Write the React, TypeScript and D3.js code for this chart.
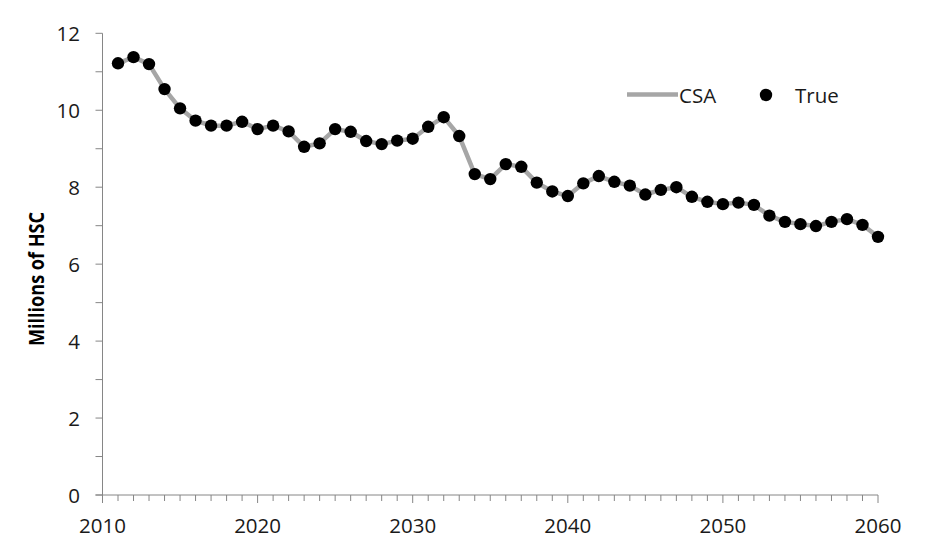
import React from "react";
import * as d3 from "d3";

const years: number[] = [
  2011, 2012, 2013, 2014, 2015, 2016, 2017, 2018, 2019, 2020,
  2021, 2022, 2023, 2024, 2025, 2026, 2027, 2028, 2029, 2030,
  2031, 2032, 2033, 2034, 2035, 2036, 2037, 2038, 2039, 2040,
  2041, 2042, 2043, 2044, 2045, 2046, 2047, 2048, 2049, 2050,
  2051, 2052, 2053, 2054, 2055, 2056, 2057, 2058, 2059, 2060,
];
const csaValues: number[] = [
  11.22, 11.38, 11.2, 10.55, 10.05, 9.73, 9.6, 9.6, 9.7, 9.51,
  9.6, 9.45, 9.05, 9.14, 9.51, 9.44, 9.2, 9.12, 9.21, 9.26,
  9.57, 9.82, 9.33, 8.34, 8.21, 8.6, 8.53, 8.12, 7.89, 7.77,
  8.1, 8.29, 8.14, 8.04, 7.81, 7.93, 8.0, 7.75, 7.62, 7.56,
  7.6, 7.54, 7.26, 7.1, 7.04, 6.99, 7.1, 7.17, 7.02, 6.71,
];
const trueValues: number[] = [
  11.22, 11.38, 11.2, 10.55, 10.05, 9.73, 9.6, 9.6, 9.7, 9.51,
  9.6, 9.45, 9.05, 9.14, 9.51, 9.44, 9.2, 9.12, 9.21, 9.26,
  9.57, 9.82, 9.33, 8.34, 8.21, 8.6, 8.53, 8.12, 7.89, 7.77,
  8.1, 8.29, 8.14, 8.04, 7.81, 7.93, 8.0, 7.75, 7.62, 7.56,
  7.6, 7.54, 7.26, 7.1, 7.04, 6.99, 7.1, 7.17, 7.02, 6.71,
];
const yMajorTicks: number[] = [0, 2, 4, 6, 8, 10, 12];
const yMinorTicks: number[] = [1, 3, 5, 7, 9, 11];
const xMajorTicks: number[] = [2010, 2020, 2030, 2040, 2050, 2060];
const seriesNames: string[] = ["CSA", "True"];
const yTitle = "Millions of HSC";

const W = 930;
const H = 556;
const left = 102.5;
const right = 878;
const top = 33.3;
const bottom = 495;
const axisColor = "#868686";
const lineColor = "#a6a6a6";
const textColor = "#1a1a1a";
const font = "'Open Sans', 'Noto Sans', sans-serif";

export default function App() {
  const x = d3.scaleLinear().domain([2010, 2060]).range([left, right]);
  const y = d3.scaleLinear().domain([0, 12]).range([bottom, top]);
  const allYears = d3.range(2010, 2061);

  const line = d3
    .line<number>()
    .x((_, i) => x(years[i]))
    .y((d) => y(d));

  return (
    <svg
      width={W}
      height={H}
      style={{ position: "absolute", left: 0, top: 0, background: "#fff" }}
      fontFamily={font}
    >
      {/* y axis */}
      <line x1={left} x2={left} y1={y(12)} y2={bottom} stroke={axisColor} strokeWidth={1} />
      {[...yMajorTicks, ...yMinorTicks].map((t) => (
        <line key={"yt" + t} x1={left - 7} x2={left} y1={y(t)} y2={y(t)} stroke={axisColor} strokeWidth={1} />
      ))}
      {yMajorTicks.map((t) => (
        <text
          key={"yl" + t}
          x={80}
          y={y(t)}
          textAnchor="end"
          dominantBaseline="central"
          fontSize={20.5}
          fill={textColor}
        >
          {t}
        </text>
      ))}
      {/* x axis */}
      <line x1={left - 7} x2={right} y1={bottom} y2={bottom} stroke={axisColor} strokeWidth={1} />
      {allYears.map((t) => (
        <line
          key={"xt" + t}
          x1={x(t)}
          x2={x(t)}
          y1={bottom}
          y2={bottom + (xMajorTicks.includes(t) ? 8 : 6)}
          stroke={axisColor}
          strokeWidth={1}
        />
      ))}
      {xMajorTicks.map((t) => (
        <text key={"xl" + t} x={x(t)} y={532.5} textAnchor="middle" fontSize={20.5} fill={textColor}>
          {t}
        </text>
      ))}
      {/* y title */}
      <text
        transform={`translate(44, 279) rotate(-90)`}
        textAnchor="middle"
        fontSize={20.5}
        fontWeight="bold"
        fill="#000"
        textLength={134}
        lengthAdjust="spacingAndGlyphs"
      >
        {yTitle}
      </text>
      {/* CSA line */}
      <path d={line(csaValues) || ""} fill="none" stroke={lineColor} strokeWidth={4.5} strokeLinejoin="round" />
      {/* True points */}
      {trueValues.map((v, i) => (
        <circle key={"p" + i} cx={x(years[i])} cy={y(v)} r={6.2} fill="#000" />
      ))}
      {/* legend */}
      <line x1={627} x2={678} y1={94.5} y2={94.5} stroke={lineColor} strokeWidth={4.5} />
      <text x={679} y={95} dominantBaseline="central" fontSize={20.5} fill={textColor}>
        {seriesNames[0]}
      </text>
      <circle cx={766} cy={95} r={6.2} fill="#000" />
      <text x={795} y={95} dominantBaseline="central" fontSize={20.5} fill={textColor}>
        {seriesNames[1]}
      </text>
    </svg>
  );
}
